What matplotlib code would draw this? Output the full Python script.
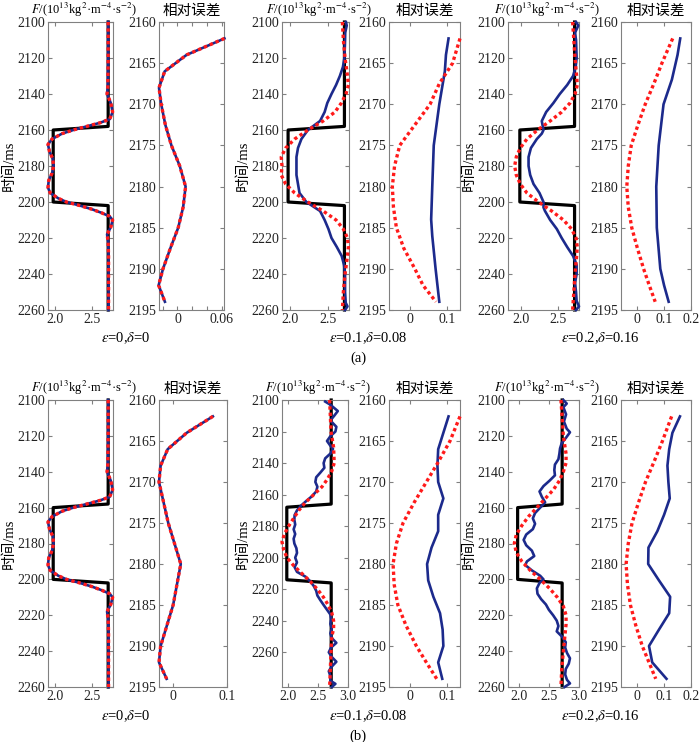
import numpy as np
import matplotlib
matplotlib.use('Agg')
import matplotlib.pyplot as plt

plt.rcParams['font.family'] = ['Liberation Serif', 'Noto Sans CJK SC']
plt.rcParams['mathtext.fontset'] = 'stix'
plt.rcParams['font.size'] = 10

# ---------------- data ----------------
# model (black)
blk_hi, blk_lo = 2.72, 1.98
blk_t = [2100, 2158, 2160, 2200, 2202, 2260]
blk_t_b2 = [2100, 2166, 2168, 2214, 2216, 2282]
blk_v = [blk_hi, blk_hi, blk_lo, blk_lo, blk_hi, blk_hi]

# eps=0 inversion (blue and red coincide)
f0_t = [2100, 2120, 2136, 2140, 2145, 2150, 2154, 2156, 2158, 2160, 2162, 2165, 2168,
        2172, 2176, 2180, 2184, 2188, 2192, 2195, 2198, 2200, 2202, 2204, 2206, 2208,
        2210, 2214, 2218, 2222, 2230, 2260]
f0_v = [2.72, 2.72, 2.715, 2.705, 2.755, 2.78, 2.74, 2.61, 2.43, 2.25, 2.10, 1.965, 1.91,
        1.93, 1.975, 1.985, 1.965, 1.92, 1.91, 1.94, 2.05, 2.16, 2.34, 2.50, 2.63, 2.74,
        2.78, 2.755, 2.705, 2.72, 2.725, 2.725]

# (a) eps=0.1
fa1_red_t = [2100, 2110, 2120, 2130, 2135, 2140, 2145, 2150, 2155, 2160, 2165, 2170, 2175,
             2180, 2185, 2190, 2195, 2200, 2205, 2210, 2215, 2220, 2225, 2230, 2240, 2250, 2260]
fa1_red_v = [2.693, 2.706, 2.728, 2.76, 2.772, 2.74, 2.68, 2.596, 2.44, 2.24, 2.067, 1.948, 1.89,
             1.90, 1.89, 1.948, 2.067, 2.24, 2.44, 2.61, 2.706, 2.76, 2.772, 2.76, 2.728, 2.706, 2.693]
fa1_blu_t = [2100, 2102, 2106, 2110, 2120, 2125, 2130, 2135, 2140, 2145, 2150, 2155, 2160, 2165,
             2170, 2175, 2180, 2185, 2190, 2195, 2200, 2205, 2210, 2215, 2220, 2225, 2230, 2235,
             2240, 2250, 2256, 2258, 2260]
fa1_blu_v = [2.74, 2.75, 2.73, 2.728, 2.72, 2.70, 2.66, 2.61, 2.55, 2.495, 2.46, 2.40, 2.24, 2.155,
             2.11, 2.09, 2.09, 2.09, 2.11, 2.13, 2.22, 2.40, 2.46, 2.51, 2.55, 2.62, 2.684, 2.715,
             2.728, 2.728, 2.737, 2.76, 2.728]

# (a) eps=0.2
fa2_red_t = [2100, 2120, 2130, 2135, 2140, 2145, 2150, 2155, 2160, 2165, 2170, 2175, 2180, 2185,
             2190, 2195, 2200, 2205, 2210, 2215, 2220, 2225, 2230, 2240, 2260]
fa2_red_v = [2.694, 2.726, 2.748, 2.757, 2.726, 2.659, 2.546, 2.39, 2.219, 2.076, 1.986, 1.932,
             1.91, 1.932, 1.986, 2.076, 2.233, 2.41, 2.57, 2.68, 2.74, 2.757, 2.748, 2.726, 2.694]
fa2_blu_t = [2100, 2102, 2106, 2110, 2120, 2125, 2130, 2135, 2140, 2145, 2150, 2155, 2158, 2160,
             2162, 2165, 2170, 2175, 2180, 2185, 2190, 2195, 2200, 2203, 2205, 2210, 2215, 2220,
             2225, 2230, 2235, 2240, 2245, 2250, 2255, 2258, 2260]
fa2_blu_v = [2.74, 2.77, 2.726, 2.74, 2.748, 2.735, 2.70, 2.62, 2.52, 2.434, 2.336, 2.277, 2.29,
             2.30, 2.277, 2.21, 2.13, 2.098, 2.098, 2.12, 2.165, 2.246, 2.30, 2.30, 2.32, 2.39,
             2.48, 2.546, 2.62, 2.70, 2.748, 2.748, 2.726, 2.74, 2.748, 2.78, 2.74]

# (b) eps=0.1
fb1_red_t = [2100, 2120, 2130, 2140, 2145, 2150, 2155, 2160, 2165, 2170, 2175, 2180, 2185, 2190,
             2195, 2200, 2205, 2210, 2215, 2220, 2225, 2230, 2235, 2240, 2245, 2250, 2260, 2270, 2282]
fb1_red_v = [2.694, 2.717, 2.76, 2.77, 2.73, 2.66, 2.567, 2.43, 2.29, 2.18, 2.094, 2.01, 1.94, 1.90,
             1.928, 1.983, 2.094, 2.23, 2.37, 2.49, 2.59, 2.67, 2.73, 2.76, 2.76, 2.73, 2.717, 2.706, 2.694]
fb1_blu_t = [2101, 2103, 2107, 2110, 2113, 2117, 2120, 2123, 2126, 2129, 2131, 2134, 2137, 2140,
             2143, 2146, 2149, 2152, 2155, 2158, 2161, 2164, 2167, 2170, 2173, 2176, 2179, 2182,
             2185, 2188, 2191, 2194, 2197, 2200, 2203, 2206, 2209, 2212, 2215, 2218, 2221, 2224,
             2227, 2230, 2233, 2236, 2239, 2242, 2245, 2248, 2251, 2254, 2257, 2260, 2263, 2266,
             2269, 2272, 2275, 2278, 2280, 2282]
fb1_blu_v = [2.62, 2.706, 2.83, 2.77, 2.706, 2.806, 2.79, 2.706, 2.65, 2.706, 2.75, 2.706, 2.62,
             2.594, 2.606, 2.54, 2.47, 2.456, 2.49, 2.47, 2.40, 2.306, 2.217, 2.15, 2.11, 2.106,
             2.12, 2.094, 2.12, 2.094, 2.106, 2.14, 2.15, 2.12, 2.15, 2.11, 2.15, 2.29, 2.37, 2.43,
             2.47, 2.49, 2.54, 2.594, 2.65, 2.706, 2.717, 2.706, 2.73, 2.706, 2.73, 2.806, 2.717,
             2.68, 2.73, 2.806, 2.73, 2.68, 2.706, 2.706, 2.79, 2.73]

# (b) eps=0.2
fb2_red_t = [2100, 2120, 2130, 2135, 2140, 2145, 2150, 2155, 2160, 2165, 2170, 2175, 2180, 2185,
             2190, 2195, 2200, 2205, 2210, 2215, 2220, 2225, 2230, 2240, 2250, 2260]
fb2_red_v = [2.70, 2.74, 2.785, 2.785, 2.74, 2.674, 2.575, 2.437, 2.30, 2.16, 2.05, 1.958, 1.925,
             1.958, 2.05, 2.19, 2.355, 2.51, 2.64, 2.74, 2.785, 2.785, 2.77, 2.74, 2.713, 2.70]
fb2_blu_t = [2100, 2102, 2104, 2108, 2112, 2116, 2118, 2121, 2124, 2127, 2130, 2133, 2136, 2139,
             2142, 2145, 2148, 2151, 2154, 2157, 2160, 2163, 2166, 2169, 2172, 2175, 2178, 2181,
             2184, 2187, 2190, 2192, 2195, 2198, 2200, 2202, 2205, 2208, 2211, 2214, 2217, 2220,
             2223, 2226, 2229, 2232, 2235, 2238, 2241, 2244, 2247, 2250, 2253, 2256, 2258, 2260]
fb2_blu_v = [2.74, 2.796, 2.74, 2.785, 2.75, 2.796, 2.85, 2.785, 2.713, 2.685, 2.674, 2.658, 2.60,
             2.59, 2.60, 2.51, 2.41, 2.344, 2.383, 2.437, 2.355, 2.27, 2.233, 2.27, 2.233, 2.123,
             2.08, 2.123, 2.217, 2.256, 2.134, 2.107, 2.217, 2.355, 2.41, 2.344, 2.30, 2.31, 2.37,
             2.45, 2.50, 2.57, 2.63, 2.658, 2.63, 2.72, 2.78, 2.77, 2.80, 2.85, 2.83, 2.78, 2.77,
             2.80, 2.85, 2.76]

# relative error panels
e0a_t = [2162, 2164, 2166, 2168, 2170, 2172.5, 2175, 2177.5, 2180, 2182.5, 2185, 2187.5, 2190, 2192, 2194]
e0a_v = [0.0636, 0.0123, -0.0173, -0.025, -0.022, -0.0164, -0.0082, 0.0031, 0.011, 0.0077,
         0.001, -0.0096, -0.0196, -0.0255, -0.017]
e0b_t = [2162, 2164, 2166, 2168, 2170, 2175, 2180, 2185, 2190, 2192, 2194]
e0b_v = [0.074, 0.026, -0.009, -0.022, -0.025, -0.008, 0.015, 0.001, -0.022, -0.025, -0.011]

er_t = [2162, 2165, 2167.5, 2170, 2172.5, 2175, 2177.5, 2180, 2182.5, 2185, 2187.5, 2190, 2192, 2194]
e1a_red = [0.136, 0.116, 0.080, 0.055, 0.014, -0.027, -0.041, -0.047, -0.044, -0.036, -0.016, 0.014, 0.036, 0.071]
e1a_blu_t = [2162, 2164, 2166, 2170, 2175, 2180, 2184, 2186, 2190, 2194]
e1a_blu = [0.105, 0.098, 0.095, 0.080, 0.065, 0.061, 0.058, 0.061, 0.070, 0.080]

e2a_red = [0.132, 0.092, 0.062, 0.030, 0.003, -0.022, -0.033, -0.0385, -0.033, -0.020, 0.001, 0.024, 0.045, 0.067]
e2a_blu_t = [2162, 2164, 2167, 2170, 2175, 2180, 2185, 2190, 2192, 2194]
e2a_blu = [0.160, 0.150, 0.129, 0.098, 0.080, 0.071, 0.073, 0.086, 0.100, 0.117]

e1b_red = [0.136, 0.109, 0.078, 0.045, 0.012, -0.018, -0.036, -0.045, -0.042, -0.032, -0.010, 0.018, 0.045, 0.073]
eb_blu_t = [2162, 2164, 2166, 2168, 2170, 2172, 2174, 2176, 2178, 2180, 2182, 2184, 2186, 2188, 2190, 2192, 2194]
e1b_blu = [0.105, 0.091, 0.077, 0.075, 0.077, 0.091, 0.077, 0.077, 0.059, 0.047, 0.050, 0.064,
           0.082, 0.089, 0.091, 0.077, 0.088]

e2b_red = [0.128, 0.094, 0.063, 0.031, 0.005, -0.019, -0.033, -0.041, -0.036, -0.025, -0.005, 0.019, 0.044, 0.069]
e2b_blu = [0.159, 0.131, 0.119, 0.1125, 0.116, 0.121, 0.100, 0.075, 0.042, 0.041, 0.081, 0.1225,
           0.119, 0.081, 0.044, 0.056, 0.109]

F_title = r'$F$/(10$^{13}$kg$^{2}$·m$^{-4}$·s$^{-2}$)'
err_title = '相对误差'
case_labels = [r'$\varepsilon$=0,$\delta$=0', r'$\varepsilon$=0.1,$\delta$=0.08',
               r'$\varepsilon$=0.2,$\delta$=0.16']

BLUE = '#1c2a8c'
RED = '#ff1a1a'
GRAY = '#808080'
DOT = (0, (1.0, 0.9))

W, H = 700, 742
fig = plt.figure(figsize=(7.0, 7.42), dpi=100)


def box(x0, x1, y0, y1):
    return [x0 / W, 1 - y1 / H, (x1 - x0) / W, (y1 - y0) / H]


def style(ax):
    for s in ax.spines.values():
        s.set_color(GRAY)
        s.set_linewidth(0.8)
    ax.tick_params(direction='in', length=3, width=0.8, color=GRAY, top=True, right=True,
                   labelsize=10, labelcolor='#222222', pad=2)


def fpanel(rect, xlim, xticks, ylim, bt, bv, blue, red):
    ax = fig.add_axes(rect)
    ax.plot(bv, bt, color='k', lw=2.3, clip_on=False, zorder=2)
    ax.plot(blue[1], blue[0], color=BLUE, lw=1.9, clip_on=False, zorder=3)
    ax.plot(red[1], red[0], color=RED, lw=2.4, ls=DOT, clip_on=False, zorder=4)
    ax.set_xlim(xlim)
    ax.set_ylim(ylim[1], ylim[0])
    ax.set_xticks(xticks)
    ax.set_xticklabels(['%.1f' % v for v in xticks])
    ax.set_yticks(np.arange(2100, 2261, 20))
    ax.set_ylabel('时间/ms', labelpad=1, fontsize=10.5)
    ax.set_title(F_title, fontsize=9, pad=6, x=0.5 + 3.0 / (rect[2] * W))
    style(ax)
    return ax


def epanel(rect, xlim, xticks, xlabels, blue, red):
    ax = fig.add_axes(rect)
    ax.plot(blue[1], blue[0], color=BLUE, lw=1.9, clip_on=False, zorder=3)
    ax.plot(red[1], red[0], color=RED, lw=2.4, ls=DOT, clip_on=False, zorder=4)
    ax.set_xlim(xlim)
    ax.set_ylim(2195, 2160)
    ax.set_xticks(xticks)
    ax.set_xticklabels(xlabels)
    ax.set_yticks(np.arange(2160, 2196, 5))
    ax.set_title(err_title, fontsize=10.5, pad=5)
    style(ax)
    return ax


# ---------------- row (a) ----------------
ya = (22, 310)
fpanel(box(48, 113, *ya), (1.91, 2.785), [2.0, 2.5], (2100, 2260), blk_t, blk_v,
       (f0_t, f0_v), (f0_t, f0_v))
epanel(box(159, 224, *ya), (-0.025, 0.063), [-0.02, 0, 0.02, 0.04, 0.06], ['', '0', '', '', '0.06'],
       (e0a_t, e0a_v), (e0a_t, e0a_v))
fpanel(box(282, 349, *ya), (1.90, 2.78), [2.0, 2.5], (2100, 2260), blk_t, blk_v,
       (fa1_blu_t, fa1_blu_v), (fa1_red_t, fa1_red_v))
epanel(box(389, 460, *ya), (-0.056, 0.136), [0, 0.1], ['0', '0.1'],
       (e1a_blu_t, e1a_blu), (er_t, e1a_red))
fpanel(box(508, 579, *ya), (1.82, 2.78), [2.0, 2.5], (2100, 2260), blk_t, blk_v,
       (fa2_blu_t, fa2_blu_v), (fa2_red_t, fa2_red_v))
epanel(box(621, 691, *ya), (-0.06, 0.2), [0, 0.1, 0.2], ['0', '0.1', '0.2'],
       (e2a_blu_t, e2a_blu), (er_t, e2a_red))

# ---------------- row (b) ----------------
yb = (400, 687)
fpanel(box(48, 113, *yb), (1.91, 2.785), [2.0, 2.5], (2100, 2260), blk_t, blk_v,
       (f0_t, f0_v), (f0_t, f0_v))
epanel(box(159, 227, *yb), (-0.025, 0.1), [0, 0.1], ['0', '0.1'],
       (e0b_t, e0b_v), (e0b_t, e0b_v))
fpanel(box(282, 348, *yb), (1.90, 3.0), [2.0, 2.5, 3.0], (2100, 2282), blk_t_b2, blk_v,
       (fb1_blu_t, fb1_blu_v), (fb1_red_t, fb1_red_v))
epanel(box(389, 460, *yb), (-0.056, 0.136), [0, 0.1], ['0', '0.1'],
       (eb_blu_t, e1b_blu), (er_t, e1b_red))
fpanel(box(508, 579, *yb), (1.82, 3.0), [2.0, 2.5, 3.0], (2100, 2260), blk_t, blk_v,
       (fb2_blu_t, fb2_blu_v), (fb2_red_t, fb2_red_v))
epanel(box(621, 691, *yb), (-0.06, 0.2), [0, 0.1, 0.2], ['0', '0.1', '0.2'],
       (eb_blu_t, e2b_blu), (er_t, e2b_red))

# case labels and sub-figure tags
for cx, lab in zip([126, 368, 600], case_labels):
    fig.text(cx / W, 1 - 338 / H, lab, ha='center', va='center', fontsize=10.5)
    fig.text(cx / W, 1 - 716 / H, lab, ha='center', va='center', fontsize=10.5)
fig.text(358 / W, 1 - 358 / H, '(a)', ha='center', va='center', fontsize=10.5)
fig.text(358 / W, 1 - 736 / H, '(b)', ha='center', va='center', fontsize=10.5)

fig.savefig('out.png', dpi=100)
